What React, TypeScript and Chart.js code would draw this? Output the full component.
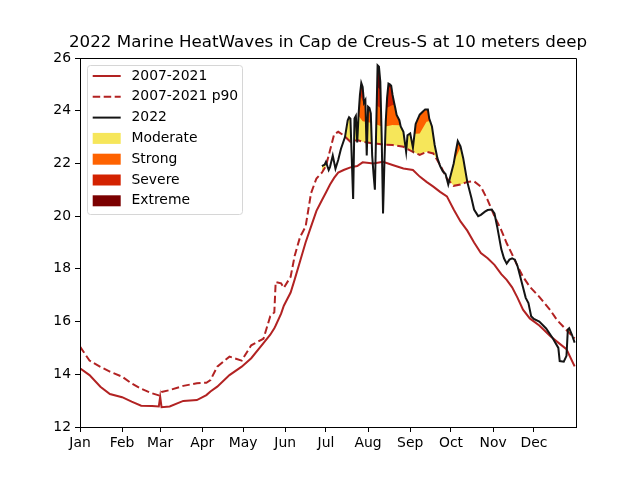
import React, { useEffect, useRef } from "react";
import { Chart, registerables } from "chart.js";

Chart.register(...registerables);

const TITLE = "2022 Marine HeatWaves in Cap de Creus-S at 10 meters deep";

const monthStarts = [0, 31, 59, 90, 120, 151, 181, 212, 243, 273, 304, 334];
const monthLabels = ["Jan", "Feb", "Mar", "Apr", "May", "Jun", "Jul", "Aug", "Sep", "Oct", "Nov", "Dec"];

const yMin = 12;
const yMax = 26;
const yStep = 2;

// Climatology (2007-2021) mean and 90th percentile, by day of year
const gridDays = [
  0, 7, 15, 22, 31, 38, 45, 53, 58, 59, 60, 66, 76, 86, 93, 96, 101, 110, 119, 126, 135, 140, 143, 144, 148,
  150, 155, 158, 162, 166, 170, 174, 178, 181, 184, 187, 190, 194, 199, 204, 208, 216, 223, 230, 238, 245,
  250, 255, 260, 265, 270, 275, 280, 285, 290, 295, 300, 305, 310, 314, 318, 322, 326, 331, 338, 346, 351,
  358, 364,
];
const climMean = [
  14.23, 13.97, 13.53, 13.25, 13.13, 12.96, 12.81, 12.8, 12.78, 13.15, 12.75, 12.78, 12.99, 13.02, 13.21,
  13.35, 13.53, 13.97, 14.29, 14.61, 15.18, 15.5, 15.75, 15.85, 16.3, 16.6, 17.1, 17.6, 18.3, 19.0, 19.6,
  20.2, 20.6, 20.9, 21.2, 21.45, 21.65, 21.75, 21.85, 21.9, 22.04, 22.0, 22.06, 21.94, 21.81, 21.75, 21.5,
  21.3, 21.12, 20.92, 20.75, 20.25, 19.8, 19.45, 19.0, 18.6, 18.4, 18.15, 17.8, 17.58, 17.3, 16.9, 16.45,
  16.12, 15.85, 15.45, 15.24, 14.95, 14.3,
];
const climP90 = [
  15.05, 14.52, 14.28, 14.1, 13.91, 13.65, 13.45, 13.28, 13.2, 13.3, 13.33, 13.4, 13.56, 13.66, 13.68,
  13.78, 14.29, 14.67, 14.52, 15.1, 15.35, 16.2, 16.35, 17.5, 17.45, 17.28, 17.7, 18.5, 19.22, 19.6, 20.87,
  21.43, 21.65, 21.9, 22.5, 23.1, 23.2, 23.07, 22.82, 22.89, 22.82, 22.76, 22.72, 22.7, 22.63, 22.44, 22.32,
  22.44, 22.38, 21.94, 21.43, 21.15, 21.2, 21.3, 21.32, 21.12, 20.61, 20.0, 19.47, 18.97, 18.55, 18.1, 17.7,
  17.32, 16.94, 16.44, 16.06, 15.68, 15.36,
];

// 2022 observed temperature
const tempDays = [
  178, 180, 181, 183, 184, 186, 188, 190, 192, 195, 197, 198, 199, 201, 202, 203, 204, 205, 206, 207, 208,
  209, 210, 211, 212, 213, 214, 215, 216, 217, 218, 219, 220, 221, 222, 223, 224, 225, 226, 227, 228, 229,
  230, 231, 232, 233, 235, 236, 238, 240, 241, 243, 245, 247, 250, 252, 254, 256, 257, 259, 261, 263, 265,
  267, 269, 271, 273, 275, 276, 278, 280, 282, 283, 285, 288, 290, 293, 295, 298, 300, 303, 305, 307, 310,
  312, 314, 316, 318, 320, 322, 324, 326, 328, 330, 332, 334, 338, 343, 348, 352, 353, 356, 358, 359, 360,
  362, 364,
];
const temp2022 = [
  21.9, 21.95, 22.06, 21.75, 21.87, 22.3, 21.8, 22.13, 22.55, 23.0, 23.64, 23.75, 23.7, 20.65, 23.7, 23.8,
  22.8, 23.85, 24.6, 25.05, 24.9, 24.3, 24.4, 22.3, 24.15, 24.1, 23.9, 22.3, 21.6, 21.0, 23.4, 25.72, 25.67,
  25.1, 23.0, 20.1, 22.0, 23.6, 24.5, 25.03, 25.0, 24.95, 24.6, 24.34, 24.1, 23.84, 23.64, 23.4, 23.2, 22.44,
  23.07, 23.14, 22.6, 23.5, 23.85, 23.95, 24.05, 24.05, 23.7, 23.4, 22.7, 22.2, 21.9, 21.7, 21.6, 21.2, 21.6,
  22.0, 22.3, 22.85, 22.65, 22.2, 21.9, 21.3, 20.7, 20.25, 20.0, 20.05, 20.17, 20.23, 20.25, 20.1, 19.6,
  18.75, 18.4, 18.2, 18.35, 18.4, 18.35, 18.1, 17.7, 17.3, 16.9, 16.7, 16.2, 16.1, 16.0, 15.74, 15.36, 15.0,
  14.5, 14.48, 14.7, 15.7, 15.75, 15.5, 15.2,
];

const seriesLabels = ["2007-2021", "2007-2021 p90", "2022"];
const categoryLabels = ["Moderate", "Strong", "Severe", "Extreme"];
const categoryColors = ["#f6e65a", "#fe6200", "#d32200", "#7b0000"];
const climColor = "#b22222";
const tempColor = "#141414";
const FONT = "DejaVu Sans, Verdana, sans-serif";

export default function App() {
  const canvasRef = useRef<HTMLCanvasElement | null>(null);

  useEffect(() => {
    const canvas = canvasRef.current;
    if (!canvas) return;

    const pts = (xs: number[], ys: number[]) => xs.map((x, i) => ({ x, y: ys[i] }));
    // category threshold k: climatology + k * (p90 - climatology)
    const levelPts = (k: number) =>
      gridDays.map((d, i) => ({ x: d, y: climMean[i] + k * (climP90[i] - climMean[i]) }));

    const tempData = pts(tempDays, temp2022);
    const transparent = "rgba(0,0,0,0)";
    // invisible threshold line that fills up to the 2022 curve where it lies below it
    const levelDs = (k: number, color: string) => ({
      data: levelPts(k),
      borderWidth: 0,
      borderColor: transparent,
      backgroundColor: color,
      pointRadius: 0,
      showLine: true,
      fill: { target: 0, above: transparent, below: color },
    });

    const frameAndLegend = {
      id: "frameAndLegend",
      afterDraw(chart: any) {
        const { ctx, chartArea } = chart;
        const { left, right, top, bottom } = chartArea;
        ctx.save();
        ctx.strokeStyle = "#000";
        ctx.lineWidth = 1;
        ctx.beginPath();
        ctx.moveTo(Math.round(left) + 0.5, Math.round(top) + 0.5);
        ctx.lineTo(Math.round(right) + 0.5, Math.round(top) + 0.5);
        ctx.lineTo(Math.round(right) + 0.5, Math.round(bottom) + 0.5);
        ctx.lineTo(Math.round(left) + 0.5, Math.round(bottom) + 0.5);
        ctx.closePath();
        ctx.stroke();

        ctx.fillStyle = "#000";
        ctx.font = `16.7px ${FONT}`;
        ctx.textAlign = "center";
        ctx.textBaseline = "middle";
        ctx.fillText(TITLE, (left + right) / 2, 43);

        const bx = left + 7.5;
        const by = top + 7.5;
        const bw = 155;
        const bh = 149;
        const r = 3;
        ctx.beginPath();
        ctx.moveTo(bx + r, by);
        ctx.lineTo(bx + bw - r, by);
        ctx.arcTo(bx + bw, by, bx + bw, by + r, r);
        ctx.lineTo(bx + bw, by + bh - r);
        ctx.arcTo(bx + bw, by + bh, bx + bw - r, by + bh, r);
        ctx.lineTo(bx + r, by + bh);
        ctx.arcTo(bx, by + bh, bx, by + bh - r, r);
        ctx.lineTo(bx, by + r);
        ctx.arcTo(bx, by, bx + r, by, r);
        ctx.closePath();
        ctx.fillStyle = "rgba(255,255,255,0.8)";
        ctx.fill();
        ctx.strokeStyle = "#d6d6d6";
        ctx.lineWidth = 1;
        ctx.stroke();

        const rowY0 = top + 18;
        const rowH = 20.8;
        const hx0 = left + 12.7;
        const hx1 = left + 40.7;
        const tx = left + 51.5;
        ctx.font = `13.9px ${FONT}`;
        ctx.textAlign = "left";
        ctx.textBaseline = "middle";

        const lineStyles = [
          { color: climColor, dash: [] as number[] },
          { color: climColor, dash: [7.5, 3.5] },
          { color: tempColor, dash: [] as number[] },
        ];
        seriesLabels.forEach((lab, i) => {
          const y = rowY0 + i * rowH;
          ctx.strokeStyle = lineStyles[i].color;
          ctx.lineWidth = 2;
          ctx.setLineDash(lineStyles[i].dash);
          ctx.beginPath();
          ctx.moveTo(hx0, y);
          ctx.lineTo(hx1, y);
          ctx.stroke();
          ctx.setLineDash([]);
          ctx.fillStyle = "#000";
          ctx.fillText(lab, tx, y);
        });
        categoryLabels.forEach((lab, j) => {
          const y = rowY0 + (j + 3) * rowH;
          ctx.fillStyle = categoryColors[j];
          ctx.fillRect(hx0, y - 5.5, hx1 - hx0, 11);
          ctx.fillStyle = "#000";
          ctx.fillText(lab, tx, y);
        });
        ctx.restore();
      },
    };

    const chart = new Chart(canvas, {
      type: "line",
      data: {
        datasets: [
          {
            label: seriesLabels[2],
            data: tempData,
            borderColor: tempColor,
            borderWidth: 2,
            pointRadius: 0,
            fill: false,
          },
          {
            label: seriesLabels[0],
            data: pts(gridDays, climMean),
            borderColor: climColor,
            borderWidth: 2,
            pointRadius: 0,
            fill: false,
          },
          {
            label: seriesLabels[1],
            data: pts(gridDays, climP90),
            borderColor: climColor,
            borderWidth: 2,
            borderDash: [7.5, 3.5],
            pointRadius: 0,
            fill: false,
          },
          levelDs(4, categoryColors[3]),
          levelDs(3, categoryColors[2]),
          levelDs(2, categoryColors[1]),
          levelDs(1, categoryColors[0]),
        ] as any,
      },
      options: {
        animation: false,
        responsive: false,
        maintainAspectRatio: false,
        events: [],
        layout: { padding: { top: 58, right: 64, left: 0, bottom: 0 } },
        elements: { line: { tension: 0 } },
        plugins: {
          legend: { display: false },
          title: { display: false },
          tooltip: { enabled: false },
        },
        scales: {
          x: {
            type: "linear",
            min: 0,
            max: 365,
            grid: { drawOnChartArea: false, drawTicks: true, tickLength: 5, color: "#000", lineWidth: 1 },
            border: { display: true, color: "#000", width: 1 },
            ticks: {
              autoSkip: false,
              maxRotation: 0,
              color: "#000",
              padding: 3,
              font: { family: FONT, size: 13.9 },
              callback: (v: any) => {
                const idx = monthStarts.indexOf(Number(v));
                return idx >= 0 ? monthLabels[idx] : "";
              },
            },
            afterBuildTicks: (axis: any) => {
              axis.ticks = monthStarts.map((v) => ({ value: v }));
            },
            afterFit: (s: any) => {
              s.height = 53;
            },
          },
          y: {
            type: "linear",
            min: yMin,
            max: yMax,
            grid: { drawOnChartArea: false, drawTicks: true, tickLength: 5, color: "#000", lineWidth: 1 },
            border: { display: true, color: "#000", width: 1 },
            ticks: {
              stepSize: yStep,
              color: "#000",
              padding: 4,
              font: { family: FONT, size: 13.9 },
            },
            afterFit: (s: any) => {
              s.width = 80;
            },
          },
        },
      } as any,
      plugins: [frameAndLegend],
    });

    return () => chart.destroy();
  }, []);

  return (
    <div style={{ position: "fixed", left: 0, top: 0, width: 640, height: 480, background: "#fff" }}>
      <canvas ref={canvasRef} width={640} height={480} style={{ width: 640, height: 480, display: "block" }} />
    </div>
  );
}
